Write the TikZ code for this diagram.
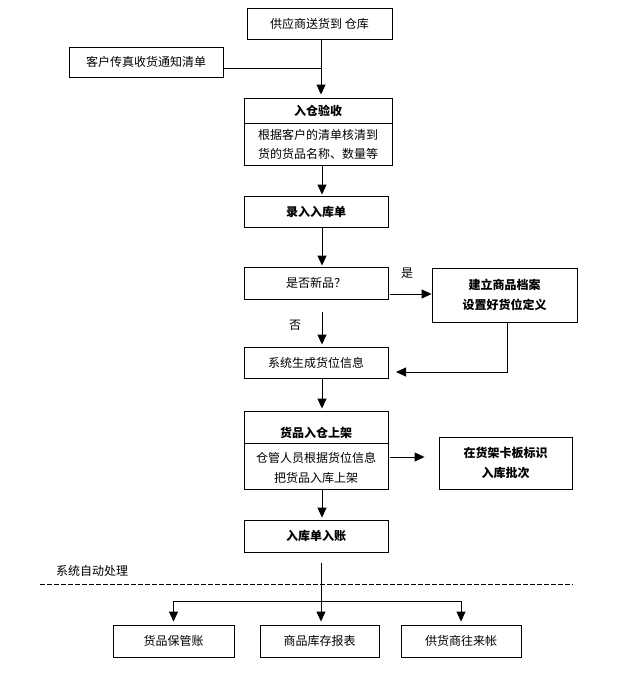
\documentclass[tikz,border=0pt]{standalone}
\usepackage{fontspec}
\setmainfont{Noto Sans CJK SC}
\usetikzlibrary{arrows.meta}
\begin{document}
\begin{tikzpicture}[x=1pt,y=-1pt,line width=0.9pt,
  box/.style={draw, rectangle, inner sep=0pt, align=center, font=\fontsize{12}{20}\selectfont},
  bbox/.style={box, font=\fontsize{12}{20}\selectfont\bfseries},
  txt/.style={inner sep=0pt, font=\fontsize{12}{14}\selectfont},
  btxt/.style={txt, font=\fontsize{12}{14}\selectfont\bfseries},
  arr/.style={-{Triangle[width=9pt,length=10pt]}}]
\fill[white] (0,0) rectangle (623,685);
\useasboundingbox (0,0) rectangle (623,685);

% boxes
\node[box, minimum width=145pt, minimum height=31pt] (A) at (319.5,23.5) {供应商送货到 仓库};
\node[box, minimum width=154pt, minimum height=30pt] (B) at (146,62) {客户传真收货通知清单};
\node[box, minimum width=148pt, minimum height=67pt] (C) at (318,131.5) {};
\node[box, minimum width=144pt, minimum height=31pt] (D) at (316,211.5) {\bfseries 录入入库单};
\node[box, minimum width=144pt, minimum height=32pt] (E) at (316,283) {是否新品？};
\node[bbox, minimum width=145pt, minimum height=54pt] (F) at (504.5,295) {建立商品档案\\设置好货位定义};
\node[box, minimum width=144pt, minimum height=31pt] (G) at (316,362.5) {系统生成货位信息};
\node[box, minimum width=144pt, minimum height=78pt] (H) at (316,450) {};
\node[bbox, minimum width=133pt, minimum height=52pt] (I) at (505.5,463) {在货架卡板标识\\入库批次};
\node[box, minimum width=144pt, minimum height=32pt] (J) at (316,536) {\bfseries 入库单入账};
\node[box, minimum width=121pt, minimum height=32pt] (K1) at (173.5,641) {货品保管账};
\node[box, minimum width=119pt, minimum height=32pt] (K2) at (319.5,641) {商品库存报表};
\node[box, minimum width=120pt, minimum height=32pt] (K3) at (461,641) {供货商往来帐};

% divided boxes: dividers and texts
\coordinate (cd) at (0,123);
\draw (C.west |- cd) -- (C.east |- cd);
\node[btxt] (Ct) at (318,111) {入仓验收};
\node[txt] (C1) at (318,135) {根据客户的清单核清到};
\node[txt] (C2) at (318,154) {货的货品名称、数量等};

\coordinate (hd) at (0,443);
\draw (H.west |- hd) -- (H.east |- hd);
\node[btxt] (Ht) at (316,433) {货品入仓上架};
\node[txt] (H1) at (316,458) {仓管人员根据货位信息};
\node[txt] (H2) at (316,478) {把货品入库上架};

% labels
\node[txt] (yes) at (407,273) {是};
\node[txt] (no) at (295,325) {否};
\node[txt] (auto) at (92,571) {系统自动处理};

% connectors
\coordinate (ax) at (321,0);
\coordinate (mx) at (322,0);
\coordinate (vB) at (321,68);
\draw[arr, shorten >=3pt] (A.south -| ax) -- (C.north -| ax);
\draw (B.east |- vB) -- (vB);
\draw[arr, shorten >=1pt] (C.south -| mx) -- (D.north -| mx);
\draw[arr, shorten >=1pt] (D.south -| mx) -- (E.north -| mx);
\coordinate (e1) at (322,312);
\draw[arr, shorten >=2pt] (e1) -- (G.north -| mx);
\coordinate (e2) at (390,294);
\draw[arr] (e2) -- (F.west |- e2);
\coordinate (fx) at (507,0);
\coordinate (g1) at (396,372);
\draw[arr] (F.south -| fx) |- (g1);
\draw[arr, shorten >=2pt] (G.south -| mx) -- (H.north -| mx);
\coordinate (h1) at (390,457);
\draw[arr, shorten >=14pt] (h1) -- (I.west |- h1);
\draw[arr, shorten >=2pt] (H.south -| mx) -- (J.north -| mx);
\coordinate (j1) at (321,563);
\coordinate (hb) at (321,601);
\draw[arr, shorten >=3pt] (j1) -- (K2.north -| j1);
\draw[arr, shorten >=3pt] (hb) -| (K1.north);
\draw[arr, shorten >=3pt] (hb) -| (K3.north);

% dashed separator
\coordinate (d1) at (40,584);
\coordinate (d2) at (573,584);
\draw[dash pattern=on 4.5pt off 2.5pt] (d1) -- (d2);
\end{tikzpicture}
\end{document}
